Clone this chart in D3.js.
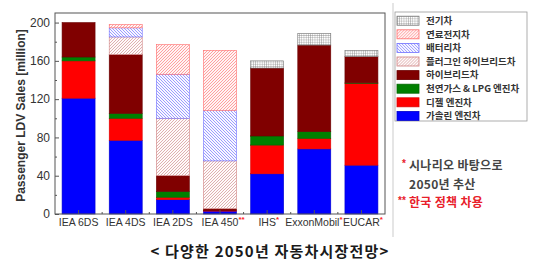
<!DOCTYPE html>
<html>
<head>
<meta charset="utf-8">
<script src="https://cdn.jsdelivr.net/npm/d3@7"></script>
<style>
  body { margin: 0; background: #fff; }
  svg { display: block; }
</style>
</head>
<body>
<div id="chart"></div>
<script>
// data (million units, segment values, bottom to top)
const scenarios = ["IEA 6DS", "IEA 4DS", "IEA 2DS", "IEA 450", "IHS", "ExxonMobil", "EUCAR"];
const marks = ["", "", "", "**", "*", "*", "*"];
const gasoline = [121, 77, 15, 3, 42, 68, 51];
const diesel = [39, 23, 2.5, 0.5, 30, 11, 85.5];
const cngLpg = [4, 5, 6, 0, 9.5, 7, 0.5];
const hybrid = [36, 61.5, 16.5, 2, 71, 90.5, 27.5];
const plugin = [0, 18.5, 60, 50, 0, 0, 0];
const battery = [0, 9.5, 46, 52.5, 0, 0, 0];
const fuelCell = [0, 3.5, 31, 63, 0, 0, 0];
const electric = [0, 0, 0, 0, 7.5, 12, 6.5];
const yTicks = [0, 40, 80, 120, 160, 200];
const notes = [["*", "시나리오 바탕으로"], ["", "2050년 추산"], ["**", "한국 정책 차용"]];

// series (stack order) - legend lists them reversed
const series = [
  { name: "가솔린 엔진차", values: gasoline, fill: "#0000ff", stroke: "#0000cc" },
  { name: "디젤 엔진차", values: diesel, fill: "#ff0000", stroke: "#dd0000" },
  { name: "천연가스 & LPG 엔진차", values: cngLpg, fill: "#008000", stroke: "#006600" },
  { name: "하이브리드차", values: hybrid, fill: "#800000", stroke: "#6a0000" },
  { name: "플러그인 하이브리드차", values: plugin, fill: "url(#hPhev)", stroke: "#d08080" },
  { name: "배터리차", values: battery, fill: "url(#hBev)", stroke: "#6f6fff" },
  { name: "연료전지차", values: fuelCell, fill: "url(#hFcv)", stroke: "#ff6b6b" },
  { name: "전기차", values: electric, fill: "url(#hGrid)", stroke: "#777" }
];

const W = 540, H = 264;
const plot = { left: 55, right: 385, top: 13, bottom: 214 };

const svg = d3.select("#chart").append("svg")
  .attr("width", W).attr("height", H);

// hatch patterns
const defs = svg.append("defs");
function hatch(id, color, bg, dir) {
  const s = 3;
  const p = defs.append("pattern").attr("id", id)
    .attr("patternUnits", "userSpaceOnUse")
    .attr("width", s).attr("height", s);
  p.append("rect").attr("width", s).attr("height", s).attr("fill", bg);
  const d = dir > 0
    ? `M-1,1 l2,-2 M0,${s} l${s},-${s} M${s - 1},${s + 1} l2,-2`
    : `M-1,${s - 1} l2,2 M0,0 l${s},${s} M${s - 1},-1 l2,2`;
  p.append("path").attr("d", d).attr("stroke", color).attr("stroke-width", 0.7);
}
hatch("hFcv", "#ff7a7a", "#fff4f4", 1);
hatch("hBev", "#7474ff", "#f8f8ff", -1);
hatch("hPhev", "#d09090", "#fffafa", 1);
const g = defs.append("pattern").attr("id", "hGrid")
  .attr("patternUnits", "userSpaceOnUse").attr("width", 2.2).attr("height", 2.2);
g.append("rect").attr("width", 2.2).attr("height", 2.2).attr("fill", "#fff");
g.append("path").attr("d", "M0,0 H2.2 M0,0 V2.2").attr("stroke", "#666").attr("stroke-width", 0.6);

// scales
const x = d3.scaleBand().domain(scenarios)
  .range([plot.left, plot.right]).paddingInner(0.3).paddingOuter(0.15);
const y = d3.scaleLinear().domain([0, 210]).range([plot.bottom, plot.top]);

// stack
const rows = scenarios.map((s, i) => {
  const r = { scenario: s };
  series.forEach(se => { r[se.name] = se.values[i]; });
  return r;
});
const stacked = d3.stack().keys(series.map(s => s.name))(rows);

stacked.forEach((layer, li) => {
  const se = series[li];
  svg.append("g").selectAll("rect")
    .data(layer.filter(d => d[1] - d[0] > 0))
    .join("rect")
    .attr("x", d => x(d.data.scenario))
    .attr("y", d => y(d[1]))
    .attr("width", x.bandwidth())
    .attr("height", d => y(d[0]) - y(d[1]))
    .attr("fill", se.fill)
    .attr("stroke", se.stroke)
    .attr("stroke-width", 0.6);
});

// frame
svg.append("rect")
  .attr("x", plot.left).attr("y", plot.top)
  .attr("width", plot.right - plot.left).attr("height", plot.bottom - plot.top)
  .attr("fill", "none").attr("stroke", "#555").attr("stroke-width", 1);

// y axis (ticks inside)
const yAxis = svg.append("g")
  .attr("transform", `translate(${plot.left},0)`)
  .call(d3.axisRight(y).tickValues(yTicks).tickSize(4).tickFormat(""));
yAxis.select(".domain").remove();
yAxis.selectAll("line").attr("stroke", "#555");
const yMinor = svg.append("g")
  .attr("transform", `translate(${plot.left},0)`)
  .call(d3.axisRight(y).tickValues(yTicks.slice(1).map(v => v - 20)).tickSize(2).tickFormat(""));
yMinor.select(".domain").remove();
yMinor.selectAll("line").attr("stroke", "#555");

svg.append("g").selectAll("text")
  .data(yTicks).join("text")
  .attr("x", plot.left - 5)
  .attr("y", d => y(d))
  .attr("dy", "0.36em")
  .attr("text-anchor", "end")
  .style("font-family", "Liberation Sans, Arial, sans-serif")
  .style("font-size", "12px")
  .style("fill", "#333")
  .text(d => d);

// x axis ticks (inside)
const xAxis = svg.append("g")
  .attr("transform", `translate(0,${plot.bottom})`)
  .call(d3.axisTop(x).tickSize(4).tickFormat(""));
xAxis.select(".domain").remove();
xAxis.selectAll("line").attr("stroke", "#555");
const between = scenarios.slice(1).map(s => x(s) - x.step() * x.paddingInner() / 2);
svg.append("g").selectAll("line")
  .data(between).join("line")
  .attr("x1", d => d).attr("x2", d => d)
  .attr("y1", plot.bottom).attr("y2", plot.bottom - 2)
  .attr("stroke", "#555");

// x labels with red asterisks (a label is nudged left if its mark would hit the next label)
const labelG = svg.append("g");
const labelTexts = scenarios.map(d => labelG.append("text")
  .attr("x", x(d) + x.bandwidth() / 2)
  .attr("y", plot.bottom + 12)
  .attr("text-anchor", "middle")
  .style("font-family", "Liberation Sans, Arial, sans-serif")
  .style("font-size", "10.5px")
  .style("fill", "#333")
  .text(d));
scenarios.forEach((d, i) => {
  if (!marks[i]) return;
  const t = labelTexts[i];
  const len = t.node().getComputedTextLength();
  const cx = x(d) + x.bandwidth() / 2;
  const m = labelG.append("text")
    .attr("y", plot.bottom + 8)
    .style("font-family", "Liberation Sans, Arial, sans-serif")
    .style("font-size", "8px")
    .style("font-weight", "bold")
    .style("fill", "#ff2020")
    .text(marks[i]);
  const mLen = m.node().getComputedTextLength();
  let shift = 0;
  if (i < scenarios.length - 1) {
    const nextLen = labelTexts[i + 1].node().getComputedTextLength();
    const nextStart = x(scenarios[i + 1]) + x.bandwidth() / 2 - nextLen / 2;
    const end = cx + len / 2 + mLen;
    if (end > nextStart - 0.5) shift = end - nextStart + 0.5;
  }
  t.attr("x", cx - shift);
  m.attr("x", cx - shift + len / 2);
});

// y axis title
svg.append("text")
  .attr("transform", `translate(25,${(plot.top + plot.bottom) / 2 + 2}) rotate(-90)`)
  .attr("text-anchor", "middle")
  .style("font-family", "Liberation Sans, Arial, sans-serif")
  .style("font-size", "12px")
  .style("font-weight", "bold")
  .style("fill", "#333")
  .text("Passenger LDV Sales [million]");

// light divider line from the source image
svg.append("line")
  .attr("x1", 393).attr("x2", 393).attr("y1", 3).attr("y2", 237)
  .attr("stroke", "#dcdcdc").attr("stroke-width", 1.5);

// legend
const legend = svg.append("g").attr("transform", "translate(395,12)");
legend.append("rect")
  .attr("width", 132).attr("height", 109)
  .attr("fill", "#fff").attr("stroke", "#999").attr("stroke-width", 0.8);
const legendItems = legend.selectAll(".legend-item")
  .data(series.slice().reverse()).join("g")
  .attr("class", "legend-item")
  .attr("transform", (d, i) => `translate(2,${8.7 + i * 13.6})`);
legendItems.append("rect")
  .attr("x", 0).attr("y", -4.5)
  .attr("width", 22).attr("height", 9)
  .attr("fill", d => d.fill)
  .attr("stroke", d => d.stroke)
  .attr("stroke-width", 0.8);
legendItems.append("text")
  .attr("x", 29).attr("y", 0).attr("dy", "0.35em")
  .style("font-family", "Noto Sans CJK KR, sans-serif")
  .style("font-size", "9.5px")
  .style("font-weight", "bold")
  .style("fill", "#333")
  .text(d => d.name);

// notes
const noteG = svg.append("g");
notes.forEach((n, i) => {
  const yy = 166 + i * 18.5;
  const red = n[0] === "**";
  if (n[0]) {
    noteG.append("text")
      .attr("x", red ? 398 : 402).attr("y", yy + 1)
      .style("font-family", "Liberation Sans, Arial, sans-serif")
      .style("font-size", "10px").style("font-weight", "bold")
      .style("fill", "#e8202a")
      .text(n[0]);
  }
  noteG.append("text")
    .attr("x", 409).attr("y", yy).attr("dy", "0.35em")
    .style("font-family", "Noto Sans CJK KR, sans-serif")
    .style("font-size", "12px").style("font-weight", "bold")
    .style("letter-spacing", "0.3px")
    .style("fill", red ? "#e8202a" : "#444")
    .text(n[1]);
});

// caption
svg.append("text")
  .attr("x", 270).attr("y", 252).attr("dy", "0.35em")
  .attr("text-anchor", "middle")
  .style("font-family", "Noto Sans CJK KR, sans-serif")
  .style("font-size", "15px").style("font-weight", "bold")
  .style("letter-spacing", "1.2px")
  .style("fill", "#1a1a1a")
  .text("< 다양한 2050년 자동차시장전망>");
</script>
</body>
</html>
